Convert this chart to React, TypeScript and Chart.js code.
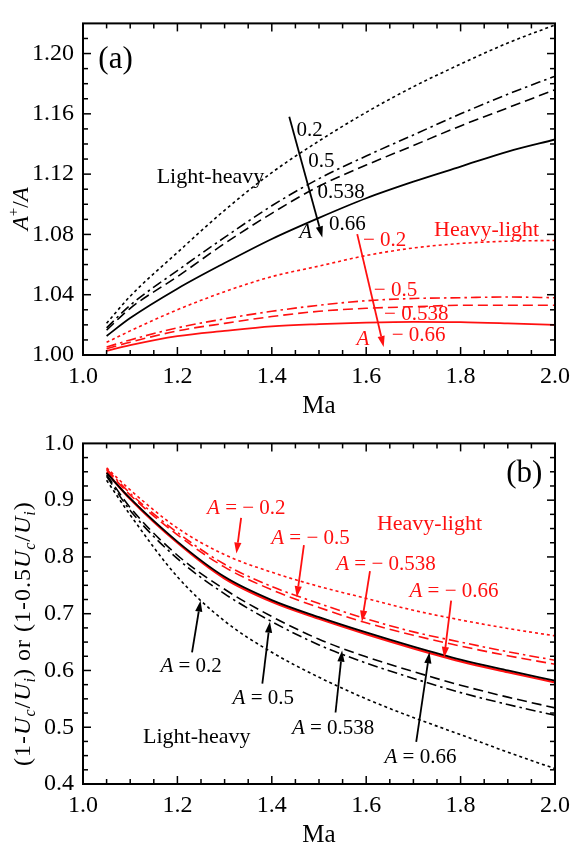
import React, { useEffect, useRef } from 'react';
import { Chart, registerables } from 'chart.js';
Chart.register(...registerables);

// ---------- data ----------
const MA = [1.05, 1.1, 1.2, 1.3, 1.4, 1.5, 1.6, 1.7, 1.8, 1.9, 2.0];

// Panel (a): A+/A
const A_LH_020 = [1.021, 1.039, 1.068, 1.096, 1.121, 1.142, 1.161, 1.178, 1.193, 1.207, 1.219];
const A_LH_050 = [1.018, 1.033, 1.056, 1.078, 1.099, 1.117, 1.132, 1.146, 1.160, 1.173, 1.185];
const A_LH_0538 = [1.0165, 1.031, 1.052, 1.074, 1.094, 1.112, 1.126, 1.139, 1.152, 1.164, 1.176];
const A_LH_066 = [1.0126, 1.0245, 1.044, 1.061, 1.077, 1.091, 1.104, 1.115, 1.125, 1.135, 1.143];
const A_HL_020 = [1.0084, 1.016, 1.030, 1.042, 1.052, 1.059, 1.066, 1.071, 1.074, 1.0755, 1.076];
const A_HL_050 = [1.0053, 1.010, 1.018, 1.024, 1.029, 1.033, 1.036, 1.0375, 1.038, 1.0385, 1.038];
const A_HL_0538 = [1.0042, 1.0085, 1.016, 1.021, 1.0255, 1.029, 1.031, 1.032, 1.033, 1.033, 1.033];
const A_HL_066 = [1.0027, 1.0065, 1.0125, 1.016, 1.019, 1.0205, 1.0215, 1.022, 1.0218, 1.021, 1.020];

// Panel (b): (1-Uc/Ui) or (1-0.5Uc/Ui)
const B_LH_020 = [0.935, 0.874, 0.765, 0.687, 0.632, 0.588, 0.550, 0.517, 0.487, 0.456, 0.427];
const B_LH_050 = [0.942, 0.882, 0.797, 0.735, 0.686, 0.645, 0.613, 0.586, 0.561, 0.540, 0.521];
const B_LH_0538 = [0.945, 0.887, 0.803, 0.743, 0.695, 0.655, 0.624, 0.598, 0.574, 0.553, 0.534];
const B_LH_066 = [0.948, 0.903, 0.827, 0.765, 0.724, 0.694, 0.667, 0.642, 0.619, 0.600, 0.582];
const B_HL_020 = [0.957, 0.918, 0.851, 0.804, 0.773, 0.748, 0.727, 0.706, 0.689, 0.674, 0.661];
const B_HL_050 = [0.955, 0.912, 0.843, 0.787, 0.748, 0.718, 0.691, 0.668, 0.650, 0.633, 0.618];
const B_HL_0538 = [0.953, 0.909, 0.839, 0.782, 0.742, 0.711, 0.684, 0.662, 0.643, 0.626, 0.611];
const B_HL_066 = [0.949, 0.902, 0.825, 0.762, 0.721, 0.691, 0.664, 0.639, 0.616, 0.597, 0.579];

// ticks
const X_TICKS = [1.0, 1.2, 1.4, 1.6, 1.8, 2.0];
const X_MINOR_STEP = 0.05;
const A_Y_TICKS = [1.0, 1.04, 1.08, 1.12, 1.16, 1.2];
const A_Y_MINOR_STEP = 0.01;
const B_Y_TICKS = [0.4, 0.5, 0.6, 0.7, 0.8, 0.9, 1.0];
const B_Y_MINOR_STEP = 0.025;

// ---------- styles ----------
const FONT = "'Liberation Serif', 'Times New Roman', Times, serif";
const BLACK = '#000000';
const RED = '#ff1010';
const DOT = [3, 3];
const DASH = [10, 5];
const DASHDOT = [10, 4, 2.5, 4];

type Seg = { t: string; it?: boolean; sub?: boolean; sup?: boolean };

function segFont(s: Seg, size: number) {
  const sz = s.sub || s.sup ? Math.round(size * 0.65) : size;
  return `${s.it ? 'italic ' : ''}${sz}px ${FONT}`;
}

function drawRich(ctx: any, segs: Seg[], x: number, y: number, size: number, color: string, spacing = 0) {
  ctx.save();
  ctx.fillStyle = color;
  ctx.textBaseline = 'alphabetic';
  ctx.textAlign = 'left';
  try { ctx.letterSpacing = spacing + 'px'; } catch (e) {}
  let w = 0;
  for (const s of segs) { ctx.font = segFont(s, size); w += ctx.measureText(s.t).width; }
  let cx = x - w / 2;
  const base = y + size * 0.33;
  for (const s of segs) {
    ctx.font = segFont(s, size);
    let dy = 0;
    if (s.sub) dy = size * 0.22;
    if (s.sup) dy = -size * 0.4;
    ctx.fillText(s.t, cx, base + dy);
    cx += ctx.measureText(s.t).width;
  }
  ctx.restore();
}

function drawArrow(ctx: any, x0: number, y0: number, x1: number, y1: number, color: string) {
  const ang = Math.atan2(y1 - y0, x1 - x0);
  const head = 11, hw = 3.6;
  const bx = x1 - head * Math.cos(ang), by = y1 - head * Math.sin(ang);
  ctx.save();
  ctx.strokeStyle = color; ctx.fillStyle = color; ctx.lineWidth = 1.8;
  ctx.beginPath(); ctx.moveTo(x0, y0); ctx.lineTo(bx, by); ctx.stroke();
  ctx.beginPath();
  ctx.moveTo(x1, y1);
  ctx.lineTo(bx + hw * Math.sin(ang), by - hw * Math.cos(ang));
  ctx.lineTo(bx - hw * Math.sin(ang), by + hw * Math.cos(ang));
  ctx.closePath(); ctx.fill();
  ctx.restore();
}

function ds(label: string, ys: number[], color: string, dash: number[], width = 1.6) {
  return {
    label,
    data: MA.map((x, i) => ({ x, y: ys[i] })),
    borderColor: color,
    borderDash: dash,
    borderWidth: width,
    pointRadius: 0,
    fill: false,
    cubicInterpolationMode: 'monotone' as const,
  };
}

function stepList(min: number, max: number, step: number) {
  const out: number[] = [];
  const n = Math.round((max - min) / step);
  for (let i = 0; i <= n; i++) out.push(+(min + i * step).toFixed(4));
  return out;
}

type Note = { segs: Seg[]; x: number; y: number; size: number; color: string };
type Arrow = { x0: number; y0: number; x1: number; y1: number; color: string };

const it = (t: string): Seg => ({ t, it: true });
const tx = (t: string): Seg => ({ t });

const NOTES_A: Note[] = [
  { segs: [tx('(a)')], x: 1.069, y: 1.197, size: 31, color: BLACK },
  { segs: [tx('Light-heavy')], x: 1.27, y: 1.1188, size: 22, color: BLACK },
  { segs: [tx('0.2')], x: 1.48, y: 1.1498, size: 21, color: BLACK },
  { segs: [tx('0.5')], x: 1.505, y: 1.1295, size: 21, color: BLACK },
  { segs: [tx('0.538')], x: 1.547, y: 1.1087, size: 21, color: BLACK },
  { segs: [tx('0.66')], x: 1.56, y: 1.0878, size: 21, color: BLACK },
  { segs: [it('A')], x: 1.472, y: 1.0822, size: 21, color: BLACK },
  { segs: [tx('Heavy-light')], x: 1.855, y: 1.084, size: 22, color: RED },
  { segs: [tx('\u2212 0.2')], x: 1.639, y: 1.0771, size: 21, color: RED },
  { segs: [tx('\u2212 0.5')], x: 1.662, y: 1.0436, size: 21, color: RED },
  { segs: [tx('\u2212 0.538')], x: 1.706, y: 1.0278, size: 21, color: RED },
  { segs: [tx('\u2212 0.66')], x: 1.711, y: 1.0139, size: 21, color: RED },
  { segs: [it('A')], x: 1.593, y: 1.0114, size: 21, color: RED },
];
const ARROWS_A: Arrow[] = [
  { x0: 1.437, y0: 1.158, x1: 1.507, y1: 1.078, color: BLACK },
  { x0: 1.581, y0: 1.0802, x1: 1.637, y1: 1.0053, color: RED },
];

const NOTES_B: Note[] = [
  { segs: [tx('(b)')], x: 1.935, y: 0.95, size: 31, color: BLACK },
  { segs: [it('A'), tx(' = \u2212 0.2')], x: 1.346, y: 0.887, size: 21, color: RED },
  { segs: [it('A'), tx(' = \u2212 0.5')], x: 1.482, y: 0.835, size: 21, color: RED },
  { segs: [it('A'), tx(' = \u2212 0.538')], x: 1.642, y: 0.789, size: 21, color: RED },
  { segs: [it('A'), tx(' = \u2212 0.66')], x: 1.786, y: 0.741, size: 21, color: RED },
  { segs: [tx('Heavy-light')], x: 1.734, y: 0.861, size: 22, color: RED },
  { segs: [it('A'), tx(' = 0.2')], x: 1.229, y: 0.61, size: 21, color: BLACK },
  { segs: [it('A'), tx(' = 0.5')], x: 1.382, y: 0.553, size: 21, color: BLACK },
  { segs: [it('A'), tx(' = 0.538')], x: 1.53, y: 0.5, size: 21, color: BLACK },
  { segs: [it('A'), tx(' = 0.66')], x: 1.715, y: 0.45, size: 21, color: BLACK },
  { segs: [tx('Light-heavy')], x: 1.241, y: 0.485, size: 22, color: BLACK },
];
const ARROWS_B: Arrow[] = [
  { x0: 1.335, y0: 0.869, x1: 1.325, y1: 0.806, color: RED },
  { x0: 1.468, y0: 0.821, x1: 1.453, y1: 0.729, color: RED },
  { x0: 1.608, y0: 0.775, x1: 1.591, y1: 0.686, color: RED },
  { x0: 1.78, y0: 0.723, x1: 1.765, y1: 0.622, color: RED },
  { x0: 1.231, y0: 0.632, x1: 1.249, y1: 0.723, color: BLACK },
  { x0: 1.38, y0: 0.577, x1: 1.396, y1: 0.686, color: BLACK },
  { x0: 1.535, y0: 0.526, x1: 1.549, y1: 0.635, color: BLACK },
  { x0: 1.706, y0: 0.474, x1: 1.734, y1: 0.632, color: BLACK },
];

const YTITLE_A: Seg[] = [it('A'), { t: '+', sup: true }, tx('/'), it('A')];
const YTITLE_B: Seg[] = [
  tx('(1-'), it('U'), { t: 'c', it: true, sub: true }, tx('/'), it('U'), { t: 'i', it: true, sub: true },
  tx(') or (1-0.5'), it('U'), { t: 'c', it: true, sub: true }, tx('/'), it('U'), { t: 'i', it: true, sub: true }, tx(')'),
];

function makePlugin(p: {
  id: string; yMajor: number[]; yMinorStep: number; yMin: number; yMax: number;
  notes: Note[]; arrows: Arrow[]; yTitle: Seg[]; yTitleX: number; yTitleY: number; yTitleSize: number; yTitleSpacing: number;
}) {
  return {
    id: p.id,
    afterDatasetsDraw(chart: any) {
      const { ctx, chartArea: ca, scales } = chart;
      const xs = scales.x, ys = scales.y;
      ctx.save();
      ctx.strokeStyle = BLACK;
      ctx.lineWidth = 1.5;
      const line = (a: number, b: number, c: number, d: number) => { ctx.beginPath(); ctx.moveTo(a, b); ctx.lineTo(c, d); ctx.stroke(); };
      for (const v of stepList(1.0, 2.0, X_MINOR_STEP)) {
        const px = xs.getPixelForValue(v);
        if (px <= ca.left + 1 || px >= ca.right - 1) continue;
        const major = X_TICKS.some((t) => Math.abs(t - v) < 1e-6);
        const len = major ? 8 : 5;
        line(px, ca.bottom, px, ca.bottom - len);
        line(px, ca.top, px, ca.top + len);
      }
      for (const v of stepList(p.yMin, p.yMax, p.yMinorStep)) {
        const py = ys.getPixelForValue(v);
        if (py <= ca.top + 1 || py >= ca.bottom - 1) continue;
        const major = p.yMajor.some((t) => Math.abs(t - v) < 1e-6);
        const len = major ? 8 : 5;
        line(ca.left, py, ca.left + len, py);
        line(ca.right, py, ca.right - len, py);
      }
      ctx.lineWidth = 2;
      ctx.strokeRect(ca.left, ca.top, ca.right - ca.left, ca.bottom - ca.top);
      ctx.restore();

      for (const a of p.arrows) {
        drawArrow(ctx, xs.getPixelForValue(a.x0), ys.getPixelForValue(a.y0), xs.getPixelForValue(a.x1), ys.getPixelForValue(a.y1), a.color);
      }
      for (const n of p.notes) {
        drawRich(ctx, n.segs, xs.getPixelForValue(n.x), ys.getPixelForValue(n.y), n.size, n.color);
      }
      // x title
      drawRich(ctx, [tx('Ma')], (ca.left + ca.right) / 2, ca.bottom + 50, 25, BLACK);
      // y title
      ctx.save();
      ctx.translate(p.yTitleX, ys.getPixelForValue(p.yTitleY));
      ctx.rotate(-Math.PI / 2);
      drawRich(ctx, p.yTitle, 0, 0, p.yTitleSize, BLACK, p.yTitleSpacing);
      ctx.restore();
    },
  };
}

function makeConfig(o: {
  datasets: any[]; yMin: number; yMax: number; yTicks: number[]; yDigits: number;
  padTop: number; xHeight: number; plugin: any;
}) {
  return {
    type: 'line' as const,
    data: { datasets: o.datasets },
    options: {
      animation: false,
      responsive: false,
      maintainAspectRatio: false,
      layout: { padding: { left: 0, right: 17, top: o.padTop, bottom: 0 } },
      plugins: { legend: { display: false }, tooltip: { enabled: false } },
      scales: {
        x: {
          type: 'linear', min: 1.0, max: 2.0,
          grid: { display: false, drawTicks: false },
          border: { display: false },
          ticks: {
            color: BLACK, font: { family: FONT, size: 24 }, padding: 7, maxRotation: 0,
            callback: (v: any) => Number(v).toFixed(1),
          },
          afterBuildTicks: (s: any) => { s.ticks = X_TICKS.map((v) => ({ value: v })); },
          afterFit: (s: any) => { s.height = o.xHeight; },
        },
        y: {
          type: 'linear', min: o.yMin, max: o.yMax,
          grid: { display: false, drawTicks: false },
          border: { display: false },
          ticks: {
            color: BLACK, font: { family: FONT, size: 24 }, padding: 9,
            callback: (v: any) => Number(v).toFixed(o.yDigits),
          },
          afterBuildTicks: (s: any) => { s.ticks = o.yTicks.map((v) => ({ value: v })); },
          afterFit: (s: any) => { s.width = 83; },
        },
      },
    },
    plugins: [o.plugin],
  };
}

export default function App() {
  const refA = useRef<HTMLCanvasElement>(null);
  const refB = useRef<HTMLCanvasElement>(null);

  useEffect(() => {
    const cfgA = makeConfig({
      datasets: [
        ds('A=0.2', A_LH_020, BLACK, DOT),
        ds('A=0.5', A_LH_050, BLACK, DASHDOT),
        ds('A=0.538', A_LH_0538, BLACK, DASH),
        ds('A=0.66', A_LH_066, BLACK, [], 1.8),
        ds('A=-0.2', A_HL_020, RED, DOT),
        ds('A=-0.5', A_HL_050, RED, DASHDOT),
        ds('A=-0.538', A_HL_0538, RED, DASH),
        ds('A=-0.66', A_HL_066, RED, [], 1.8),
      ],
      yMin: 1.0, yMax: 1.22, yTicks: A_Y_TICKS, yDigits: 2, padTop: 7, xHeight: 65,
      plugin: makePlugin({
        id: 'decorA', yMajor: A_Y_TICKS, yMinorStep: A_Y_MINOR_STEP, yMin: 1.0, yMax: 1.22,
        notes: NOTES_A, arrows: ARROWS_A, yTitle: YTITLE_A, yTitleX: 20, yTitleY: 1.097, yTitleSize: 23, yTitleSpacing: 0,
      }),
    });
    const cfgB = makeConfig({
      datasets: [
        ds('A=0.66', B_LH_066, BLACK, [], 1.8),
        ds('A=0.538', B_LH_0538, BLACK, DASH),
        ds('A=0.5', B_LH_050, BLACK, DASHDOT),
        ds('A=0.2', B_LH_020, BLACK, DOT),
        ds('A=-0.66', B_HL_066, RED, [], 2.2),
        ds('A=-0.538', B_HL_0538, RED, DASH),
        ds('A=-0.5', B_HL_050, RED, DASHDOT),
        ds('A=-0.2', B_HL_020, RED, DOT),
      ],
      yMin: 0.4, yMax: 1.0, yTicks: B_Y_TICKS, yDigits: 1, padTop: 14, xHeight: 66,
      plugin: makePlugin({
        id: 'decorB', yMajor: B_Y_TICKS, yMinorStep: B_Y_MINOR_STEP, yMin: 0.4, yMax: 1.0,
        notes: NOTES_B, arrows: ARROWS_B, yTitle: YTITLE_B, yTitleX: 22, yTitleY: 0.665, yTitleSize: 24, yTitleSpacing: 1,
      }),
    });
    const a = new Chart(refA.current as HTMLCanvasElement, cfgA as any);
    const b = new Chart(refB.current as HTMLCanvasElement, cfgB as any);
    return () => { a.destroy(); b.destroy(); };
  }, []);

  return (
    <div style={{ position: 'absolute', left: 0, top: 0, width: 577, height: 850, background: '#ffffff' }}>
      <canvas ref={refA} width={577} height={420} style={{ display: 'block', width: 577, height: 420 }} />
      <canvas ref={refB} width={577} height={430} style={{ display: 'block', width: 577, height: 430 }} />
    </div>
  );
}
